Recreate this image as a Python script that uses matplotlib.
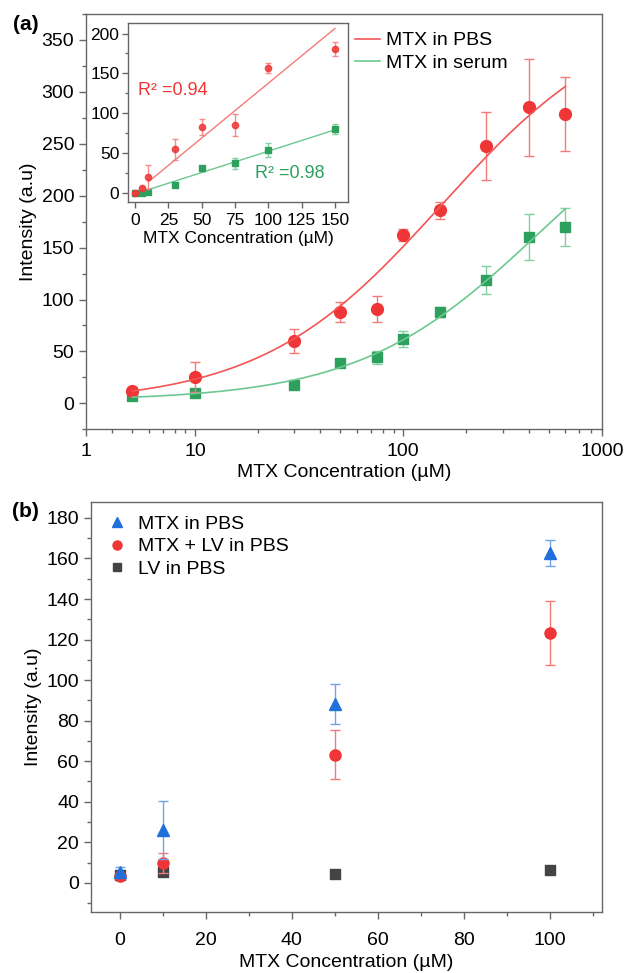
import numpy as np
import matplotlib
matplotlib.use('Agg')
import matplotlib.pyplot as plt
from matplotlib.lines import Line2D
from matplotlib.ticker import MultipleLocator, NullFormatter, FixedLocator, LogLocator

plt.rcParams['font.family'] = ['Liberation Sans', 'DejaVu Sans']

# ---- data: panel (a), main log plot ----
conc_a = [5, 10, 30, 50, 75, 100, 150, 250, 400, 600]
pbs_a = [12, 25.6, 60, 88, 90.7, 162, 186, 248, 285, 279]
pbs_a_err = [2, 14.5, 12, 10, 12.5, 6, 8.3, 32.5, 46.5, 35.5]
serum_a = [6.7, 10, 17.6, 38.8, 44.2, 62, 88, 119, 160, 170]
serum_a_err = [1, 1.5, 1.5, 2, 6, 8, 4.5, 13.5, 22, 18]

# ---- data: panel (a) inset, linear range ----
conc_in = [0, 5, 10, 30, 50, 75, 100, 150]
pbs_in = [0, 5.5, 20, 54.6, 82.4, 85.3, 156.7, 180.7]
pbs_in_err = [0.8, 1.5, 15, 13, 10, 13.6, 6.3, 9]
serum_in = [0, 0, 1.3, 9.7, 30.7, 37, 53.8, 80.3]
serum_in_err = [0.8, 1, 1.5, 3, 3, 7, 9, 6]

# ---- data: panel (b) ----
conc_b = [0, 10, 50, 100]
mtx_b = [5.6, 26, 88.4, 162.7]
mtx_b_err = [2.4, 14.3, 9.8, 6.5]
mtxlv_b = [3.4, 9.7, 63.3, 123.3]
mtxlv_b_err = [1.5, 5, 12.3, 15.6]
lv_b = [4, 5.4, 4.3, 6.4]

RED = '#ef3535'
RED_L = '#f47a7a'
GREEN = '#2ea05e'
GREEN_L = '#80d0a0'
BLUE = '#1f6fdc'
BLUE_L = '#6fa3ea'
GRAY = '#444444'
SPINE = '#666666'


def hill_fit(x, y, err):
    # y = a + b * x / (k + x), weighted by 1/err, scan k and solve a, b
    x = np.asarray(x, float)
    y = np.asarray(y, float)
    w = 1 / np.asarray(err, float)
    best = None
    for k in np.logspace(1, 4.5, 600):
        A = np.column_stack([np.ones_like(x), x / (k + x)])
        coef, *_ = np.linalg.lstsq(A * w[:, None], y * w, rcond=None)
        r = np.sum(((A @ coef - y) * w) ** 2)
        if best is None or r < best[0]:
            best = (r, k, coef)
    _, k, (a, b) = best
    return lambda t: a + b * t / (k + t)


def style_axes(ax, fs=14):
    for s in ax.spines.values():
        s.set_color(SPINE)
        s.set_linewidth(1.0)
    ax.tick_params(which='both', direction='out', color=SPINE, top=False, right=False,
                   labelsize=fs)
    ax.tick_params(which='major', length=5, width=1)
    ax.tick_params(which='minor', length=3, width=1)


fig = plt.figure(figsize=(6.24, 9.73), dpi=100)
fig.patch.set_facecolor('white')

# ================= panel (a) =================
ax = fig.add_axes([0.1378, 0.5588, 0.8269, 0.4268])
ax.set_xscale('log')
ax.errorbar(conc_a, pbs_a, yerr=pbs_a_err, fmt='o', color=RED, ms=8.5, ecolor=RED_L,
            elinewidth=1, capsize=3.5, capthick=1, zorder=4)
ax.errorbar(conc_a, serum_a, yerr=serum_a_err, fmt='s', color=GREEN, ms=7, ecolor=GREEN_L,
            elinewidth=1, capsize=3.5, capthick=1, zorder=3)
xs = np.logspace(np.log10(conc_a[0]), np.log10(conc_a[-1]), 300)
ax.plot(xs, hill_fit(conc_a, pbs_a, pbs_a_err)(xs), color='#f25555', lw=1.2,
        label='MTX in PBS', zorder=5)
ax.plot(xs, hill_fit(conc_a, serum_a, serum_a_err)(xs), color='#6cc890', lw=1.2,
        label='MTX in serum', zorder=5)
ax.set_xlim(3, 900)
ax.set_ylim(-25, 375)
ax.xaxis.set_major_locator(FixedLocator([3, 10, 100, 900]))
ax.set_xticklabels(['1', '10', '100', '1000'])
ax.xaxis.set_minor_locator(LogLocator(base=10, subs=np.arange(2, 10)))
ax.xaxis.set_minor_formatter(NullFormatter())
ax.yaxis.set_major_locator(MultipleLocator(50))
ax.yaxis.set_minor_locator(MultipleLocator(25))
style_axes(ax)
ax.tick_params(axis='x', pad=5)
ax.set_xlabel('MTX Concentration (µM)', fontsize=14, labelpad=3)
ax.set_ylabel('Intensity (a.u)', fontsize=14, labelpad=3)
ax.legend(loc='upper left', bbox_to_anchor=(0.522, 0.957), frameon=False, fontsize=14,
          handlelength=1.27, handletextpad=0.3, labelspacing=0.25, borderpad=0,
          borderaxespad=0)
fig.text(0.041, 0.975, '(a)', fontsize=15, fontweight='bold', ha='center', va='center')

# ---- inset ----
axi = fig.add_axes([0.2046, 0.7921, 0.3535, 0.1840])
axi.errorbar(conc_in, serum_in, yerr=serum_in_err, fmt='s', color=GREEN, ms=4, ecolor=GREEN_L,
             elinewidth=1, capsize=2.5, capthick=1, zorder=3)
axi.errorbar(conc_in, pbs_in, yerr=pbs_in_err, fmt='o', color=RED, ms=4.5, ecolor=RED_L,
             elinewidth=1, capsize=2.5, capthick=1, zorder=4, alpha=0.85)
xl = np.array([conc_in[2], conc_in[-1]])
p_fit = np.polyfit(conc_in, pbs_in, 1, w=1 / np.asarray(pbs_in_err))
s_fit = np.polyfit(conc_in, serum_in, 1, w=1 / np.asarray(serum_in_err))
axi.plot(xl, np.polyval(p_fit, xl), color='#f57a7a', lw=1, zorder=2)
axi.plot(xl, np.polyval(s_fit, xl), color='#6cc890', lw=1, zorder=2)
axi.set_xlim(-5.5, 160)
axi.set_ylim(-12, 213)
axi.xaxis.set_major_locator(MultipleLocator(25))
axi.yaxis.set_major_locator(MultipleLocator(50))
axi.yaxis.set_minor_locator(MultipleLocator(25))
style_axes(axi, fs=12.5)
axi.tick_params(which='major', length=4)
axi.tick_params(which='minor', length=2.5)
axi.tick_params(axis='y', pad=2)
axi.tick_params(axis='x', pad=3.5)
axi.set_xlabel('MTX Concentration (µM)', fontsize=12.5, labelpad=2.5)
axi.text(2.5, 129, 'R² =0.94', color=RED, fontsize=13, va='center', ha='left')
axi.text(90, 24, 'R² =0.98', color=GREEN, fontsize=13, va='center', ha='left')

# ================= panel (b) =================
bx = fig.add_axes([0.1455, 0.0624, 0.8192, 0.4220])
bx.scatter(conc_b, lv_b, marker='s', color=GRAY, s=42, zorder=3)
bx.errorbar(conc_b, mtxlv_b, yerr=mtxlv_b_err, fmt='o', color=RED, ms=8, ecolor=RED_L,
            elinewidth=1, capsize=3.5, capthick=1, zorder=4)
bx.errorbar(conc_b, mtx_b, yerr=mtx_b_err, fmt='^', color=BLUE, ms=9, ecolor=BLUE_L,
            elinewidth=1, capsize=3.5, capthick=1, zorder=5)
bx.set_xlim(-6.7, 112)
bx.set_ylim(-14.5, 188)
bx.xaxis.set_major_locator(MultipleLocator(20))
bx.xaxis.set_minor_locator(MultipleLocator(10))
bx.yaxis.set_major_locator(MultipleLocator(20))
bx.yaxis.set_minor_locator(MultipleLocator(10))
style_axes(bx)
bx.tick_params(axis='x', pad=9)
bx.set_xlabel('MTX Concentration (µM)', fontsize=14, labelpad=4)
bx.set_ylabel('Intensity (a.u)', fontsize=14, labelpad=3)
handles = [
    Line2D([], [], ls='none', marker='^', color=BLUE, ms=7.5),
    Line2D([], [], ls='none', marker='o', color=RED, ms=6.5),
    Line2D([], [], ls='none', marker='s', color=GRAY, ms=5.5),
]
bx.legend(handles, ['MTX in PBS', 'MTX + LV in PBS', 'LV in PBS'], loc='upper left',
          bbox_to_anchor=(0.032, 0.967), frameon=False, fontsize=14, handlelength=1.0,
          handletextpad=0.6, labelspacing=0.25, borderpad=0, borderaxespad=0)
fig.text(0.041, 0.474, '(b)', fontsize=15, fontweight='bold', ha='center', va='center')

fig.savefig('out.png', dpi=100, facecolor='white')
